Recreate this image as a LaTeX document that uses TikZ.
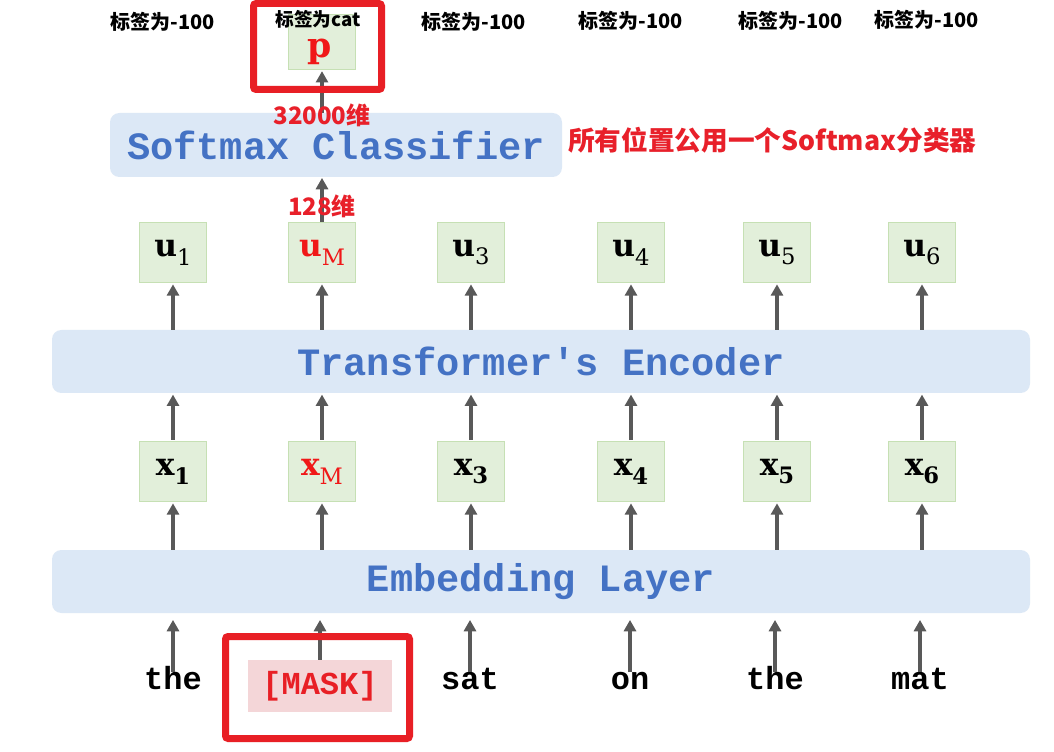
\documentclass[tikz,border=0pt]{standalone}
\usepackage{fontspec}
\setmonofont{Liberation Mono}
\newfontfamily\cjk{Noto Sans CJK SC}
\newfontfamily\vser{DejaVu Serif}
\usetikzlibrary{arrows.meta}
\definecolor{barfill}{HTML}{DCE8F6}
\definecolor{barblue}{HTML}{4472C4}
\definecolor{gfill}{HTML}{E2EFDA}
\definecolor{gdraw}{HTML}{C6E0B4}
\definecolor{arrgray}{HTML}{595959}
\definecolor{lred}{HTML}{E8202A}
\definecolor{mred}{HTML}{F01818}
\definecolor{fred}{HTML}{E81F25}
\definecolor{pinkfill}{HTML}{F4D6D8}
\newcommand{\vecsub}[3]{{\bfseries #1}\raisebox{-0.28em}{\fontsize{17}{19}\selectfont\ifnum#3=1 \bfseries\else\mdseries\fi #2}}
\begin{document}
\begin{tikzpicture}[x=0.75pt,y=-0.75pt,
  bar/.style={fill=barfill, rounded corners=7pt, inner sep=0pt, text=barblue,
    font=\ttfamily\bfseries\fontsize{29}{34}\selectfont},
  gbox/.style={fill=gfill, draw=gdraw, line width=0.75pt, minimum width=50.25pt,
    minimum height=45pt, inner sep=0pt, font=\vser\fontsize{23.5}{27}\selectfont},
  arr/.style={draw=arrgray, line width=3pt, -{Triangle[length=8.5pt,width=9pt]}},
  word/.style={font=\ttfamily\bfseries\fontsize{24}{28}\selectfont, inner sep=0pt,
    text height=0.6em, text depth=0pt},
  toplab/.style={font=\cjk\bfseries\fontsize{15}{18}\selectfont, inner sep=0pt},
  redlab/.style={text=lred, font=\cjk\bfseries\fontsize{18}{22}\selectfont, inner sep=0pt},
  rframe/.style={draw=fred, line width=5.25pt, rounded corners=2pt, inner sep=0pt}
]
\useasboundingbox (0,0) rectangle (1054,752);
\fill[white] (0,0) rectangle (1054,752);

% bars
\node[bar, minimum width={978*0.75pt}, minimum height={63*0.75pt}] (emb) at (541,581.5) {Embedding Layer};
\node[bar, minimum width={978*0.75pt}, minimum height={63*0.75pt}] (enc) at (541,361.5) {Transformer's Encoder};
\node[bar, minimum width={452*0.75pt}, minimum height={64*0.75pt}] (soft) at (336,145) {Softmax Classifier};

% words
\node[word] (w1) at (173,685) {the};
\node[fill=pinkfill, text=fred, inner sep=0pt, minimum width=108pt, minimum height=39pt,
  font=\ttfamily\bfseries\fontsize{24}{28}\selectfont] (w2) at (320,686) {[MASK]};
\node[word] (w3) at (470,685) {sat};
\node[word] (w4) at (630,685) {on};
\node[word] (w5) at (775,685) {the};
\node[word] (w6) at (920,685) {mat};

% x boxes
\node[gbox] (x1) at (173,471.5) {\vecsub{x}{1}{1}};
\node[gbox, text=mred] (x2) at (322,471.5) {\vecsub{x}{M}{0}};
\node[gbox] (x3) at (471,471.5) {\vecsub{x}{3}{1}};
\node[gbox] (x4) at (631,471.5) {\vecsub{x}{4}{1}};
\node[gbox] (x5) at (777,471.5) {\vecsub{x}{5}{1}};
\node[gbox] (x6) at (922,471.5) {\vecsub{x}{6}{1}};

% u boxes
\node[gbox] (u1) at (173,252.5) {\vecsub{u}{1}{0}};
\node[gbox, text=mred] (u2) at (322,252.5) {\vecsub{u}{M}{0}};
\node[gbox] (u3) at (471,252.5) {\vecsub{u}{3}{0}};
\node[gbox] (u4) at (631,252.5) {\vecsub{u}{4}{0}};
\node[gbox] (u5) at (777,252.5) {\vecsub{u}{5}{0}};
\node[gbox] (u6) at (922,252.5) {\vecsub{u}{6}{0}};

% p box
\node[gbox, minimum height=41.25pt] (p) at (322,42.5) {};
\node[text=mred, inner sep=0pt, font=\vser\bfseries\fontsize{26}{30}\selectfont] (ptxt) at (320,52) {p};

% arrows words -> embedding
\foreach \i in {1,3,4,5,6}{
  \draw[arr, shorten <=6.5pt, shorten >=5pt] (w\i.north) -- (emb.south -| w\i.north);
}
\draw[arr, shorten >=5pt] (w2.north) -- (emb.south -| w2.north);

% embedding -> x, x -> encoder, encoder -> u
\foreach \i in {1,...,6}{
  \draw[arr, shorten >=1pt] (emb.north -| x\i) -- (x\i.south);
  \draw[arr, shorten <=1pt, shorten >=1pt] (x\i.north) -- (enc.south -| x\i);
  \draw[arr, shorten >=1pt] (enc.north -| u\i) -- (u\i.south);
}
% u_M -> softmax -> p
\draw[arr, shorten >=0.5pt] (u2.north) -- (soft.south -| u2.north);
\draw[arr, shorten >=0.5pt] (soft.north -| p.south) -- (p.south);

% red labels
\node[redlab] (d128) at (322,206) {128维};
\node[redlab] (d32k) at (322,115) {32000维};
\node[redlab, anchor=west, font=\cjk\bfseries\fontsize{20}{24}\selectfont] (note) at (568,140) {所有位置公用一个Softmax分类器};

% top labels
\node[toplab] (t1) at (163,22) {标签为-100};
\node[toplab, font=\cjk\bfseries\fontsize{14}{17}\selectfont] (t2) at (318,19) {标签为cat};
\node[toplab] (t3) at (474,22) {标签为-100};
\node[toplab] (t4) at (631,21) {标签为-100};
\node[toplab] (t5) at (791,21) {标签为-100};
\node[toplab] (t6) at (927,20) {标签为-100};

% red frames
\node[rframe, minimum width={128*0.75pt}, minimum height={86*0.75pt}] (ftop) at (317.5,46.5) {};
\node[rframe, minimum width={184*0.75pt}, minimum height={102*0.75pt}] (fbot) at (317.5,687.5) {};
\end{tikzpicture}
\end{document}
